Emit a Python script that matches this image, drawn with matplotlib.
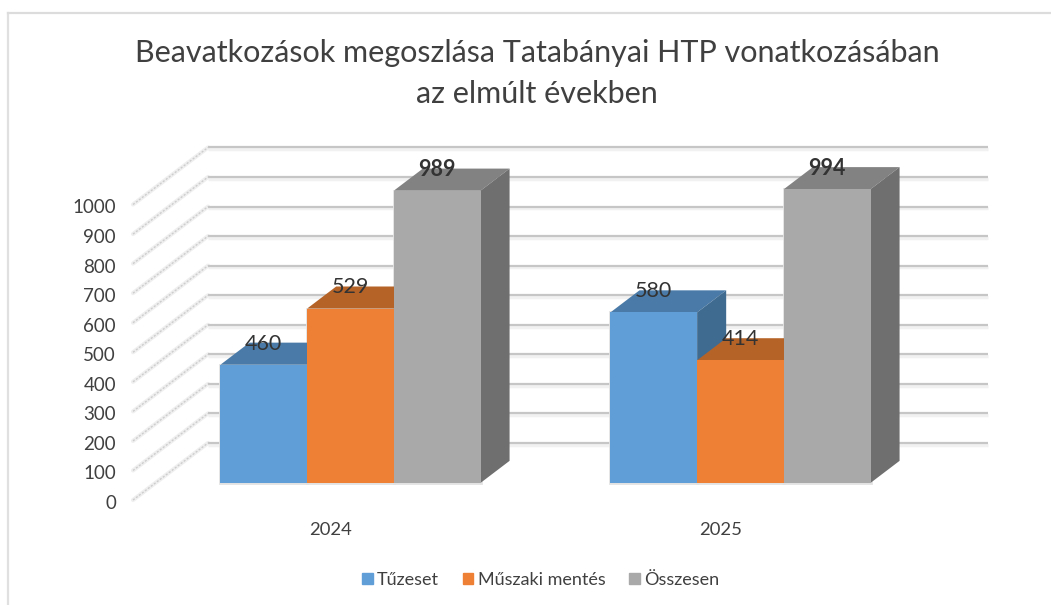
import numpy as np
import matplotlib
matplotlib.use('Agg')
import matplotlib.pyplot as plt
from matplotlib.patches import Patch

plt.rcParams['font.family'] = ['Lato', 'DejaVu Sans']

years = ['2024', '2025']
series = ['Tűzeset', 'Műszaki mentés', 'Összesen']
# bar heights as drawn, the 2024 labels do not agree with the drawn bars
heights = {
    'Tűzeset': [400, 577],
    'Műszaki mentés': [590, 415],
    'Összesen': [989, 994],
}
labels = {
    'Tűzeset': ['460', '580'],
    'Műszaki mentés': ['529', '414'],
    'Összesen': ['989', '994'],
}
front = ['#5f9ed7', '#ed8034', '#a9a9a9']
top = ['#4a7ba8', '#b66328', '#828282']
side = ['#3f6b91', '#a85a24', '#6f6f6f']
yticks = np.arange(0, 1001, 100)

W, H = 1051, 605
# front plane of the chart box in pixels
x0, cat_w = 328.0, 390.0
y0, px_per_unit = 500.0, 0.2955
# how far the back wall is shifted from the front plane, in data units
depth_x = 75.0 / cat_w
depth_y = 57.0 / px_per_unit
bar_d0, bar_d1 = 0.30, 0.687
bar_w = 86.7 / cat_w


def proj(c, v, d):
    return c + d * depth_x, v + d * depth_y


fig = plt.figure(figsize=(W / 100, H / 100), dpi=100)
ax = fig.add_axes([0, 0, 1, 1])
ax.set_xlim((0 - x0) / cat_w, (W - x0) / cat_w)
ax.set_ylim((y0 - H) / px_per_unit, y0 / px_per_unit)
ax.axis('off')

# outer frame
fig.add_artist(plt.Line2D([7.5 / W, 7.5 / W], [0, 1 - 12.5 / H], color='#e0e0e0', lw=1.6))
fig.add_artist(plt.Line2D([7.5 / W, 1], [1 - 12.5 / H, 1 - 12.5 / H], color='#dcdcdc', lw=1.6))

# walls
for v in yticks:
    xb, yb = proj(-0.5, v, 1)
    ax.plot([xb, xb + 2], [yb - 6, yb - 6], color='#f1f1f1', lw=2.5, zorder=1, solid_capstyle='butt')
    ax.plot([xb, xb + 2], [yb, yb], color='#c6c6c6', lw=1.6, zorder=2, solid_capstyle='butt')
    xf, yf = proj(-0.5, v, 0)
    ax.plot([xf, xb], [yf, yb], color='#efefef', lw=3, zorder=1, solid_capstyle='round')
    ax.plot([xf, xb], [yf, yb], color='#cdcdcd', lw=1, ls=(0, (1.5, 1.2)), zorder=2)

# pale glow round the front faces
for i, year in enumerate(years):
    for j, name in enumerate(series):
        bx, by = proj(i + (j - 1.5) * bar_w, 0, bar_d0)
        ax.bar(bx, heights[name][i], bar_w, bottom=by, align='edge', color='none', edgecolor='#e2e2e2', lw=2, zorder=2.5)

# bars, left to right so later ones hide the sides of earlier ones
z = 3
for i, year in enumerate(years):
    for j, name in enumerate(series):
        val = heights[name][i]
        left = i + (j - 1.5) * bar_w
        right = left + bar_w
        xs, ys = zip(proj(left, val, bar_d0), proj(right, val, bar_d0), proj(right, val, bar_d1), proj(left, val, bar_d1))
        ax.fill(xs, ys, color=top[j], lw=0, zorder=z)
        xs, ys = zip(proj(right, 0, bar_d0), proj(right, val, bar_d0), proj(right, val, bar_d1), proj(right, 0, bar_d1))
        ax.fill(xs, ys, color=side[j], lw=0, zorder=z)
        bx, by = proj(left, 0, bar_d0)
        ax.bar(bx, val, bar_w, bottom=by, align='edge', color=front[j], lw=0, zorder=z + 1)
        z += 2

# value labels: centred on the front face, level with the back edge of the top
for i, year in enumerate(years):
    for j, name in enumerate(series):
        val = heights[name][i]
        centre = i + (j - 1) * bar_w
        lx = proj(centre, val, bar_d0)[0]
        ly = proj(centre, val, bar_d1)[1]
        ax.annotate(labels[name][i], (lx, ly), xytext=(0, -0.7), textcoords='offset points', ha='center', va='center',
                    fontsize=15.5, color='#333333', fontweight='bold' if j == 2 else 'normal', zorder=50)

# axis labels
for v in yticks:
    ax.annotate(str(v), ((116 - x0) / cat_w, v), xytext=(0, -2.5), textcoords='offset points', ha='right', va='center',
                fontsize=13.5, color='#404040')
for i, year in enumerate(years):
    ax.annotate(year, (i, -(530 - y0) / px_per_unit), xytext=(1.5, 0), textcoords='offset points', ha='center', va='center',
                fontsize=13.3, color='#404040')

fig.text(537 / W, 1 - 53 / H, 'Beavatkozások megoszlása Tatabányai HTP vonatkozásában',
         ha='center', va='center', fontsize=22, color='#404040')
fig.text(537 / W, 1 - 94 / H, 'az elmúlt években', ha='center', va='center', fontsize=22, color='#404040')

handles = [Patch(color=c, label=n) for c, n in zip(front, series)]
fig.legend(handles=handles, loc='center', bbox_to_anchor=(540.5 / W, 1 - 580 / H), ncol=3, frameon=False,
           fontsize=13, labelcolor='#404040', handlelength=0.6, handleheight=0.6, handletextpad=0.23,
           columnspacing=1.3)

fig.savefig('out.png', dpi=100)
